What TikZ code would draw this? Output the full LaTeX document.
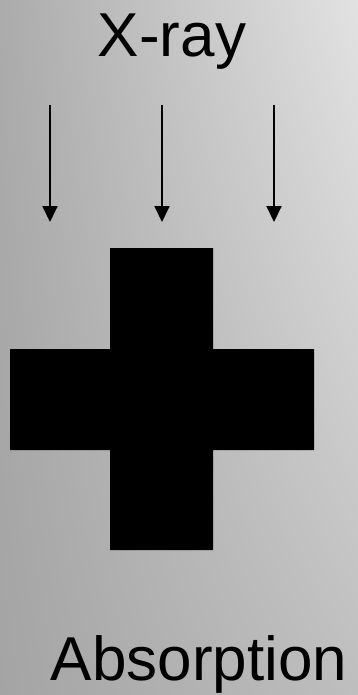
\documentclass[tikz,border=0pt]{standalone}
\usepackage{fontspec}
\setmainfont{Liberation Sans}
\usetikzlibrary{arrows.meta,shadings}
\definecolor{bgul}{RGB}{171,171,171}
\definecolor{bgur}{RGB}{226,226,226}
\definecolor{bgll}{RGB}{164,164,164}
\definecolor{bglr}{RGB}{190,190,190}
\begin{document}
\begin{tikzpicture}[x=1pt,y=-1pt,
  ray/.style={line width=2pt,-{Triangle[width=15pt,length=16pt]}},
  label/.style={font=\fontsize{62}{70}\selectfont,inner sep=0pt,anchor=base}]
\useasboundingbox (0,0) rectangle (358,695);
\shade[upper left=bgul, upper right=bgur, lower left=bgll, lower right=bglr]
  (0,0) rectangle (358,695);
\node[label] (xray) at (172,57) {X-ray};
\node[label] (abs) at (199,680) {Absorption};
\foreach \i/\x in {1/50,2/162,3/274}{
  \coordinate (s\i) at (\x,105);
  \coordinate (e\i) at (\x,222);
  \draw[ray] (s\i) -- (e\i);
}
\fill[black] (110,248) -- (213,248) -- (213,349) -- (314,349) -- (314,450)
  -- (213,450) -- (213,550) -- (110,550) -- (110,450) -- (10,450)
  -- (10,349) -- (110,349) -- cycle;
\end{tikzpicture}
\end{document}
